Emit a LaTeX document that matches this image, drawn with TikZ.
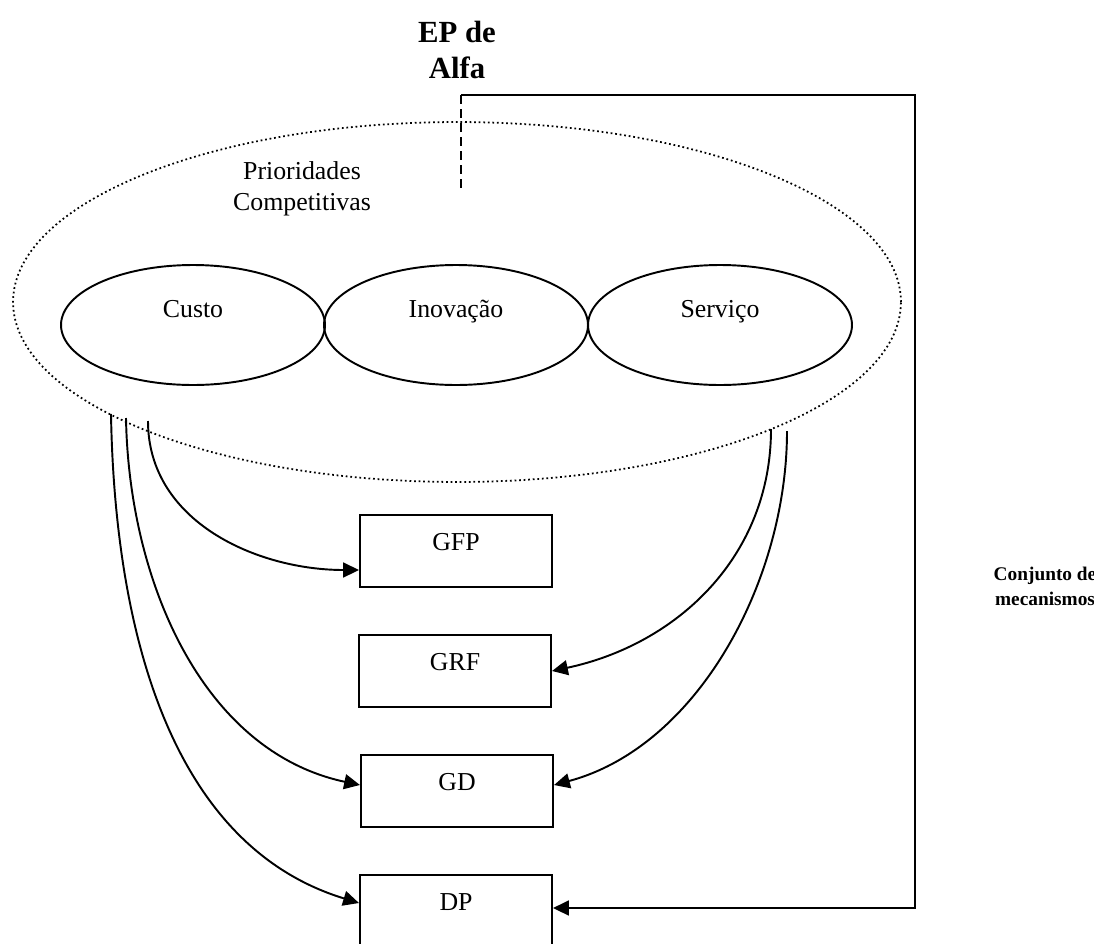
\documentclass[tikz,border=0pt]{standalone}
\usepackage{fontspec}
\setmainfont{Liberation Serif}
\usetikzlibrary{shapes.geometric}
\usetikzlibrary{arrows.meta}

\begin{document}
\begin{tikzpicture}[x=0.02cm, y=-0.02cm,
                    line width=1.1pt,
                    >={Triangle[length=9pt,width=8.5pt]},
                    prio/.style={draw,
                      ellipse,
                      inner sep=0pt,
                      minimum width=5.28cm,
                      minimum height=2.4cm,
                      text height=0.3cm,
                      text depth=0.62cm,
                      font=\fontsize{14.7}{17}\selectfont},
                    mech/.style={draw,
                      rectangle,
                      line width=1.2pt,
                      inner sep=0pt,
                      minimum width=3.84cm,
                      text height=0.71cm,
                      text depth=0.73cm,
                      font=\fontsize{14.7}{17}\selectfont}]
\useasboundingbox (0,0) rectangle (1094,943);
% big dotted ellipse with the three priorities
\node (outer) [draw, ellipse, line width=1pt, dash pattern=on 1pt off 1.6pt,
  minimum width=17.76cm, minimum height=7.2cm] at (457,302) {};
\node (prtxt) [align=center, font=\fontsize{14.7}{17.6}\selectfont] at (302,189)
  {Prioridades\\Competitivas};
\node (custo) [prio] at (193,325) {Custo};
\node (inov) [prio] at (456,325) {Inovação};
\node (serv) [prio] at (720,325) {Serviço};
% mechanisms
\node (gfp) [mech] at (456,551) {GFP};
\node (grf) [mech] at (455,671) {GRF};
\node (gd) [mech] at (457,791) {GD};
\node (dp) [mech] at (456,911) {DP};
\node (ep) [align=center, font=\fontsize{17.5}{20.4}\selectfont\bfseries] at (457,50)
  {EP de\\Alfa};
\node (conj) [align=center, font=\fontsize{11}{14.2}\selectfont\bfseries] at (1045,586)
  {Conjunto de\\mecanismos};
% start points on the dotted border
\coordinate (sdp) at (111,414);
\coordinate (sgdl) at (126,418);
\coordinate (sgfp) at (148,421);
\coordinate (sgrf) at (771,429);
\coordinate (sgdr) at (787,431);
\coordinate (ptop) at (461,95);
\coordinate (pend) at (461,188);
\coordinate (pcorner) at (915,95);
\draw[dash pattern=on 5pt off 3pt, line width=1.2pt] (ptop) -- (pend);
\draw[->] (ptop) -- (pcorner) |- ([yshift=0.06cm]dp.east);
\draw[->] (sgfp) to[out=-90,in=180] ([yshift=-0.38cm]gfp.west);
\draw[->] (sgdl) to[out=-89,in=168,looseness=0.95] ([yshift=0.12cm]gd.west);
\draw[->] (sdp) to[out=-89,in=163,looseness=0.95] ([yshift=0.16cm]dp.west);
\draw[->] (sgrf) to[out=-90,in=12] (grf.east);
\draw[->] (sgdr) to[out=-90,in=15,looseness=0.9] ([yshift=0.12cm]gd.east);
\end{tikzpicture}
\end{document}
